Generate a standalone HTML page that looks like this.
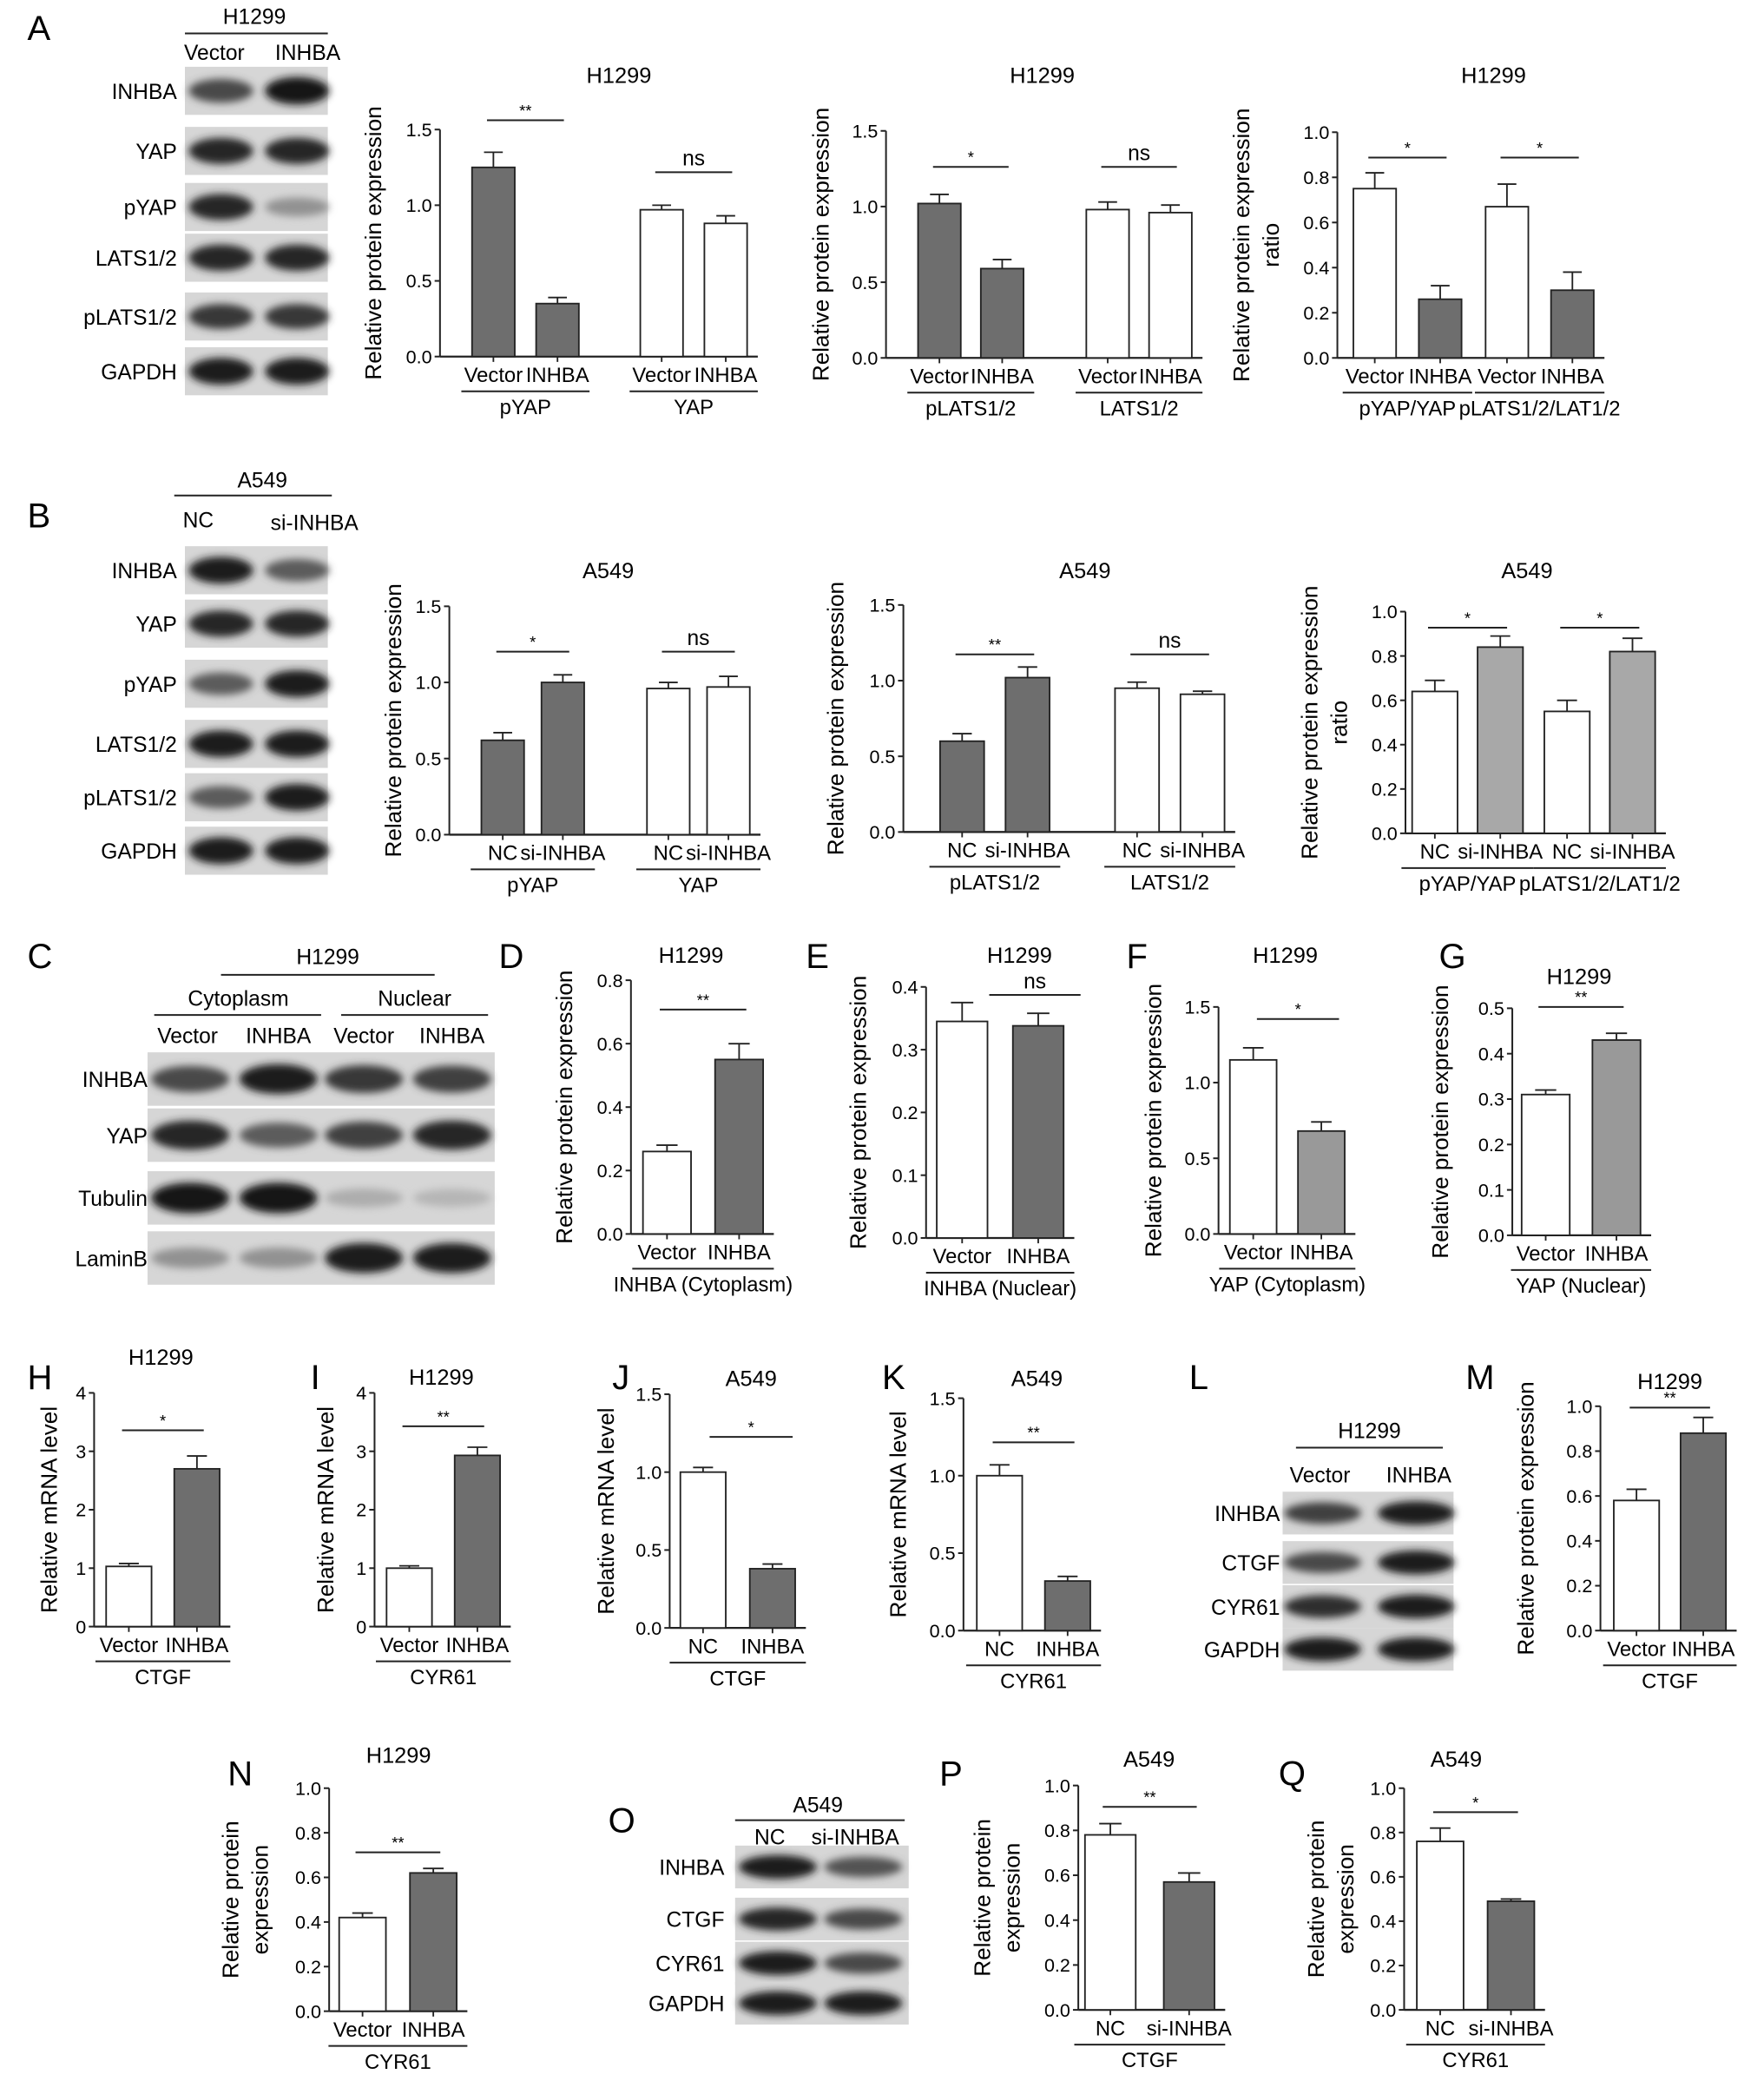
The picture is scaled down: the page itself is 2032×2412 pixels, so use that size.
<!DOCTYPE html>
<html><head><meta charset="utf-8"><style>
html,body{margin:0;padding:0;background:#fff;}
svg{display:block;font-family:"Liberation Sans",Arial,sans-serif;}
</style></head><body>
<svg id="fig" width="2032" height="2412" viewBox="0 0 1320 1568" xmlns="http://www.w3.org/2000/svg">
<defs><filter id="blur" x="-20%" y="-50%" width="140%" height="200%"><feGaussianBlur stdDeviation="3"/></filter></defs>
</svg>
<script>
// ---------- chart data ----------
const A1_VALUES=[1.25,0.35,0.97,0.88]; const A1_ERR=[0.1,0.04,0.03,0.05];
const A1_CATS=["Vector","INHBA","Vector","INHBA"]; const A1_GROUPS=["pYAP","YAP"];
const A1_TICKS=[0,0.5,1,1.5]; const A1_TICKLABELS=["0.0","0.5","1.0","1.5"];
const A2_VALUES=[1.02,0.59,0.98,0.96]; const A2_ERR=[0.06,0.06,0.05,0.05];
const A2_CATS=["Vector","INHBA","Vector","INHBA"]; const A2_GROUPS=["pLATS1/2","LATS1/2"];
const A3_VALUES=[0.75,0.26,0.67,0.30]; const A3_ERR=[0.07,0.06,0.1,0.08];
const A3_CATS=["Vector","INHBA","Vector","INHBA"]; const A3_GROUPS=["pYAP/YAP","pLATS1/2/LAT1/2"];
const T10=[0,0.2,0.4,0.6,0.8,1.0]; const T10L=["0.0","0.2","0.4","0.6","0.8","1.0"];
const B1_VALUES=[0.62,1.0,0.96,0.97]; const B1_ERR=[0.05,0.05,0.04,0.07];
const NCSI=["NC","si-INHBA","NC","si-INHBA"];
const B2_VALUES=[0.6,1.02,0.95,0.91]; const B2_ERR=[0.05,0.07,0.04,0.02];
const B3_VALUES=[0.64,0.84,0.55,0.82]; const B3_ERR=[0.05,0.05,0.05,0.06];
const D_VALUES=[0.26,0.55]; const D_ERR=[0.02,0.05];
const E_VALUES=[0.345,0.338]; const E_ERR=[0.03,0.02];
const F_VALUES=[1.15,0.68]; const F_ERR=[0.08,0.06];
const G_VALUES=[0.31,0.43]; const G_ERR=[0.01,0.015];
const H_VALUES=[1.03,2.7]; const H_ERR=[0.05,0.22];
const I_VALUES=[1.0,2.93]; const I_ERR=[0.04,0.14];
const J_VALUES=[1.0,0.38]; const J_ERR=[0.03,0.03];
const K_VALUES=[1.0,0.32]; const K_ERR=[0.07,0.03];
const M_VALUES=[0.58,0.88]; const M_ERR=[0.05,0.07];
const N_VALUES=[0.42,0.62]; const N_ERR=[0.02,0.02];
const P_VALUES=[0.78,0.57]; const P_ERR=[0.05,0.04];
const Q_VALUES=[0.76,0.49]; const Q_ERR=[0.06,0.01];
const VI=["Vector","INHBA"], NI=["NC","INHBA"], NS=["NC","si-INHBA"];
const T4=[0,0.1,0.2,0.3,0.4]; const T4L=["0.0","0.1","0.2","0.3","0.4"];
const T5=[0,0.1,0.2,0.3,0.4,0.5]; const T5L=["0.0","0.1","0.2","0.3","0.4","0.5"];
const T8=[0,0.2,0.4,0.6,0.8]; const T8L=["0.0","0.2","0.4","0.6","0.8"];
const TM=[0,1,2,3,4]; const TML=["0","1","2","3","4"];

const svg=document.getElementById('fig');
const NS_="http://www.w3.org/2000/svg";
function el(tag,attrs,parent,text){const e=document.createElementNS(NS_,tag);for(const k in attrs)e.setAttribute(k,attrs[k]);if(text!==undefined)e.textContent=text;(parent||svg).appendChild(e);return e;}
const G='#6e6e6e', W='#ffffff', L='#a8a8a8';

function chart(name,c){
  const g=el('g',{},svg);
  
  
  const y=v=>c.y0-(v/c.max)*(c.y0-c.top);
  const cx=i=>c.ax+c.off+i*c.pitch+Math.floor(i/2)*c.gap;
  const n=c.values.length;
  const yaxis=el('line',{x1:c.ax,y1:c.y0,x2:c.ax,y2:c.top,stroke:'#222','stroke-width':1.3},g);
  
  c.ticks.forEach((t,i)=>{
    el('line',{x1:c.ax-4,y1:y(t),x2:c.ax,y2:y(t),stroke:'#222','stroke-width':1.3},g);
    const tl=el('text',{x:c.ax-6,y:y(t)+5,'text-anchor':'end','font-size':14},g,c.tickLabels[i]);
    
  });
  const right=cx(n-1)+c.bw/2+8;
  const xaxis=el('line',{x1:c.ax,y1:c.y0,x2:right,y2:c.y0,stroke:'#222','stroke-width':1.5},g);
  
  c.values.forEach((v,i)=>{
    const x=cx(i);
    const b=el('rect',{x:x-c.bw/2,y:y(v),width:c.bw,height:c.y0-y(v),fill:c.fills[i],stroke:'#222','stroke-width':1.2},g);
    
    
    const e=c.err[i];
    el('line',{x1:x,y1:y(v),x2:x,y2:y(v+e),stroke:'#222','stroke-width':1.2},g);
    el('line',{x1:x-c.bw*0.22,y1:y(v+e),x2:x+c.bw*0.22,y2:y(v+e),stroke:'#222','stroke-width':1.2},g);
    el('line',{x1:x,y1:c.y0,x2:x,y2:c.y0+4,stroke:'#222','stroke-width':1.2},g);
    const xl=el('text',{x:x,y:c.y0+19,'text-anchor':'middle','font-size':15.5},g,c.cats[i]);
    
  });
  c.groups.forEach((gl,k)=>{
    const a=cx(2*k)-c.bw/2-8, b=cx(2*k+1)+c.bw/2+8;
    el('line',{x1:a,y1:c.y0+26,x2:b,y2:c.y0+26,stroke:'#222','stroke-width':1.3},g);
    const t=el('text',{x:(a+b)/2,y:c.y0+43,'text-anchor':'middle','font-size':15.5},g,gl);
    
  });
  c.sig.forEach((s,k)=>{
    const dx=s.dx||0;
    const a=cx(2*k)-c.bw*0.15+dx, b=cx(2*k+1)+c.bw*0.15+dx;
    el('line',{x1:a,y1:s.y,x2:b,y2:s.y,stroke:'#222','stroke-width':1.3},g);
    const t=el('text',{x:(a+b)/2,y:s.y-(s.t==='ns'?5:3),'text-anchor':'middle','font-size':s.t==='ns'?16:12},g,s.t);
    
  });
  const tt=el('text',{x:c.title[1],y:c.title[2],'text-anchor':'middle','font-size':16.5},g,c.title[0]);
  
  const yc=(c.y0+c.top)/2;
  const nl=c.ylab.length;
  c.ylab.forEach((l,k)=>{
    const lx=c.ylx-(nl-1-k)*22;
    const yl=el('text',{x:lx,y:yc,'text-anchor':'middle','font-size':17,transform:`rotate(-90 ${lx} ${yc})`},g,l);
    
  });
}
const RPE=["Relative protein expression"], RPR=["Relative protein expression","ratio"], RM=["Relative mRNA level"], RP2=["Relative protein","expression"];

chart('chart-a-pyap-yap',{ax:329,y0:267,top:97,max:1.5,ticks:A1_TICKS,tickLabels:A1_TICKLABELS,values:A1_VALUES,err:A1_ERR,fills:[G,G,W,W],cats:A1_CATS,groups:A1_GROUPS,off:40,pitch:48,gap:30,bw:32,title:["H1299",463,62],ylab:RPE,ylx:285,sig:[{y:90,t:'**'},{y:129,t:'ns'}]});
chart('chart-a-plats',{ax:663,y0:268,top:98,max:1.5,ticks:A1_TICKS,tickLabels:A1_TICKLABELS,values:A2_VALUES,err:A2_ERR,fills:[G,G,W,W],cats:A2_CATS,groups:A2_GROUPS,off:40,pitch:47,gap:32,bw:32,title:["H1299",780,62],ylab:RPE,ylx:620,sig:[{y:125,t:'*'},{y:125,t:'ns'}]});
chart('chart-a-ratio',{ax:1001,y0:268,top:99,max:1.0,ticks:T10,tickLabels:T10L,values:A3_VALUES,err:A3_ERR,fills:[W,G,W,G],cats:A3_CATS,groups:A3_GROUPS,off:28,pitch:49,gap:1,bw:32,title:["H1299",1118,62],ylab:RPR,ylx:957,sig:[{y:118,t:'*'},{y:118,t:'*'}]});
chart('chart-b-pyap-yap',{ax:336,y0:625,top:454,max:1.5,ticks:A1_TICKS,tickLabels:A1_TICKLABELS,values:B1_VALUES,err:B1_ERR,fills:[G,G,W,W],cats:NCSI,groups:A1_GROUPS,off:40,pitch:45,gap:34,bw:32,title:["A549",455,433],ylab:RPE,ylx:300,sig:[{y:488,t:'*'},{y:488,t:'ns'}]});
chart('chart-b-plats',{ax:676,y0:623,top:453,max:1.5,ticks:A1_TICKS,tickLabels:A1_TICKLABELS,values:B2_VALUES,err:B2_ERR,fills:[G,G,W,W],cats:NCSI,groups:A2_GROUPS,off:44,pitch:49,gap:33,bw:33,title:["A549",812,433],ylab:RPE,ylx:631,sig:[{y:490,t:'**'},{y:490,t:'ns'}]});
chart('chart-b-ratio',{ax:1052,y0:624,top:458,max:1.0,ticks:T10,tickLabels:T10L,values:B3_VALUES,err:B3_ERR,fills:[W,L,W,L],cats:NCSI,groups:A3_GROUPS,off:22,pitch:49,gap:1,bw:34,title:["A549",1143,433],ylab:RPR,ylx:1008,sig:[{y:470,t:'*'},{y:470,t:'*'}]});
chart('chart-d',{ax:472,y0:924,top:734,max:0.8,ticks:T8,tickLabels:T8L,values:D_VALUES,err:D_ERR,fills:[W,G],cats:VI,groups:["INHBA (Cytoplasm)"],off:27,pitch:54,gap:0,bw:36,title:["H1299",517,721],ylab:RPE,ylx:428,sig:[{y:756,t:'**'}]});
chart('chart-e',{ax:693,y0:927,top:739,max:0.4,ticks:T4,tickLabels:T4L,values:E_VALUES,err:E_ERR,fills:[W,G],cats:VI,groups:["INHBA (Nuclear)"],off:27,pitch:57,gap:0,bw:38,title:["H1299",763,721],ylab:RPE,ylx:648,sig:[{y:745,t:'ns',dx:26}]});
chart('chart-f',{ax:912,y0:924,top:754,max:1.5,ticks:A1_TICKS,tickLabels:A1_TICKLABELS,values:F_VALUES,err:F_ERR,fills:[W,'#999'],cats:VI,groups:["YAP (Cytoplasm)"],off:26,pitch:51,gap:0,bw:35,title:["H1299",962,721],ylab:RPE,ylx:869,sig:[{y:763,t:'*',dx:8}]});
chart('chart-g',{ax:1132,y0:925,top:755,max:0.5,ticks:T5,tickLabels:T5L,values:G_VALUES,err:G_ERR,fills:[W,'#999'],cats:VI,groups:["YAP (Nuclear)"],off:25,pitch:53,gap:0,bw:36,title:["H1299",1182,737],ylab:RPE,ylx:1084,sig:[{y:754,t:'**'}]});
chart('chart-h',{ax:70,y0:1218,top:1043,max:4,ticks:TM,tickLabels:TML,values:H_VALUES,err:H_ERR,fills:[W,G],cats:VI,groups:["CTGF"],off:26,pitch:51,gap:0,bw:34,title:["H1299",120,1022],ylab:RM,ylx:42,sig:[{y:1071,t:'*'}]});
chart('chart-i',{ax:280,y0:1218,top:1043,max:4,ticks:TM,tickLabels:TML,values:I_VALUES,err:I_ERR,fills:[W,G],cats:VI,groups:["CYR61"],off:26,pitch:51,gap:0,bw:34,title:["H1299",330,1037],ylab:RM,ylx:249,sig:[{y:1068,t:'**'}]});
chart('chart-j',{ax:501,y0:1219,top:1044,max:1.5,ticks:A1_TICKS,tickLabels:A1_TICKLABELS,values:J_VALUES,err:J_ERR,fills:[W,G],cats:NI,groups:["CTGF"],off:25,pitch:52,gap:0,bw:34,title:["A549",562,1038],ylab:RM,ylx:459,sig:[{y:1076,t:'*',dx:10}]});
chart('chart-k',{ax:721,y0:1221,top:1047,max:1.5,ticks:A1_TICKS,tickLabels:A1_TICKLABELS,values:K_VALUES,err:K_ERR,fills:[W,G],cats:NI,groups:["CYR61"],off:27,pitch:51,gap:0,bw:34,title:["A549",776,1038],ylab:RM,ylx:678,sig:[{y:1080,t:'**'}]});
chart('chart-m',{ax:1198,y0:1221,top:1053,max:1.0,ticks:T10,tickLabels:T10L,values:M_VALUES,err:M_ERR,fills:[W,G],cats:VI,groups:["CTGF"],off:27,pitch:50,gap:0,bw:34,title:["H1299",1250,1040],ylab:RPE,ylx:1148,sig:[{y:1054,t:'**'}]});
chart('chart-n',{ax:246,y0:1506,top:1339,max:1.0,ticks:T10,tickLabels:T10L,values:N_VALUES,err:N_ERR,fills:[W,G],cats:VI,groups:["CYR61"],off:25,pitch:53,gap:0,bw:35,title:["H1299",298,1320],ylab:RP2,ylx:200,sig:[{y:1387,t:'**'}]});
chart('chart-p',{ax:807,y0:1505,top:1337,max:1.0,ticks:T10,tickLabels:T10L,values:P_VALUES,err:P_ERR,fills:[W,G],cats:NS,groups:["CTGF"],off:24,pitch:59,gap:0,bw:38,title:["A549",860,1323],ylab:RP2,ylx:763,sig:[{y:1353,t:'**'}]});
chart('chart-q',{ax:1051,y0:1505,top:1339,max:1.0,ticks:T10,tickLabels:T10L,values:Q_VALUES,err:Q_ERR,fills:[W,G],cats:NS,groups:["CYR61"],off:27,pitch:53,gap:0,bw:35,title:["A549",1090,1323],ylab:RP2,ylx:1013,sig:[{y:1357,t:'*'}]});

// ---------- western blots ----------
function blot(name,x1,x2,lanes,rows,rh,labX){
  const g=el('g',{},svg);
  
  
  rows.forEach(r=>{
    el('rect',{x:x1,y:r[1]-rh/2,width:x2-x1,height:rh,fill:'#d6d6d6'},g);
    lanes.forEach((lx,i)=>{
      const d=r[2][i]; const c=Math.round(200-d*180);
      el('ellipse',{cx:lx,cy:r[1],rx:(x2-x1)/lanes.length*0.45,ry:rh*0.26*(0.6+d*0.5),fill:`rgb(${c},${c},${c})`,filter:'url(#blur)'},g);
    });
    const t=el('text',{x:labX,y:r[1]+6,'text-anchor':'end','font-size':16},g,r[0]);
    
  });
}
function txt(name,s,x,y,size,anchor){const t=el('text',{x:x,y:y,'text-anchor':anchor||'middle','font-size':size||16},svg,s);}
function ln(x1,y1,x2,y2){el('line',{x1,y1,x2,y2,stroke:'#222','stroke-width':1.3});}

blot('blot-a',138,245,[165,222],[["INHBA",68,[0.7,1]],["YAP",113,[0.9,0.9]],["pYAP",155,[0.9,0.3]],["LATS1/2",193,[0.9,0.9]],["pLATS1/2",237,[0.8,0.8]],["GAPDH",278,[0.95,0.95]]],36,132);
txt('blot-a-header','H1299',190,18);ln(138,25,245,25);txt('lane-label','Vector',160,45);txt('lane-label','INHBA',230,45);
blot('blot-b',138,245,[165,222],[["INHBA",427,[0.95,0.6]],["YAP",467,[0.9,0.9]],["pYAP",512,[0.6,0.95]],["LATS1/2",557,[0.95,0.95]],["pLATS1/2",597,[0.6,0.95]],["GAPDH",637,[0.95,0.95]]],36,132);
txt('blot-b-header','A549',196,365);ln(130,371,248,371);txt('lane-label','NC',148,395);txt('lane-label','si-INHBA',235,397);
blot('blot-c',110,370,[142,208,272,338],[["INHBA",808,[0.7,0.95,0.8,0.75]],["YAP",850,[0.9,0.6,0.75,0.9]],["Tubulin",897,[1,1,0.15,0.1]],["LaminB",942,[0.3,0.3,0.95,0.95]]],40,110);
txt('blot-c-header','H1299',245,722);ln(165,730,325,730);txt('lane-label','Cytoplasm',178,753);txt('lane-label','Nuclear',310,753);ln(115,760,240,760);ln(255,760,365,760);
txt('lane-label','Vector',140,781);txt('lane-label','INHBA',208,781);txt('lane-label','Vector',272,781);txt('lane-label','INHBA',338,781);
blot('blot-l',960,1088,[990,1060],[["INHBA",1133,[0.75,0.95]],["CTGF",1170,[0.7,0.95]],["CYR61",1203,[0.85,0.95]],["GAPDH",1235,[0.95,0.95]]],32,958);
txt('blot-l-header','H1299',1025,1077);ln(970,1084,1080,1084);txt('lane-label','Vector',988,1110);txt('lane-label','INHBA',1062,1110);
blot('blot-o',550,680,[582,646],[["INHBA",1398,[0.95,0.65]],["CTGF",1437,[0.9,0.7]],["CYR61",1470,[0.95,0.7]],["GAPDH",1500,[0.95,0.95]]],32,542);
txt('blot-o-header','A549',612,1357);ln(550,1363,677,1363);txt('lane-label','NC',576,1381);txt('lane-label','si-INHBA',640,1381);

// panel letters
[["A",20,30],["B",20,395],["C",20,725],["D",373,725],["E",603,725],["F",843,725],["G",1077,725],["H",20,1040],["I",232,1040],["J",458,1040],["K",660,1040],["L",890,1040],["M",1097,1040],["N",170,1337],["O",455,1372],["P",703,1337],["Q",957,1337]].forEach(p=>txt('panel-letter-'+p[0].toLowerCase(),p[0],p[1],p[2],26,'start'));
</script>
</body></html>
